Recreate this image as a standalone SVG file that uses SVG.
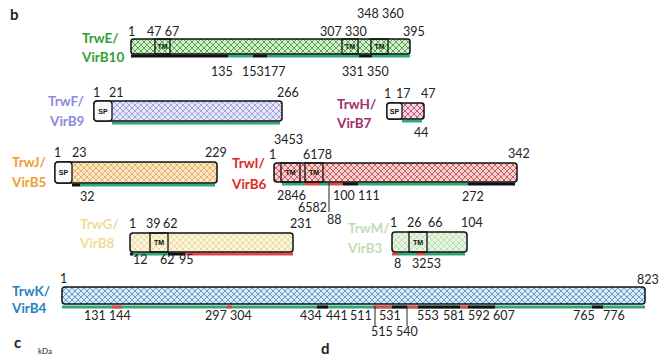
<svg xmlns="http://www.w3.org/2000/svg" width="662" height="357" viewBox="0 0 662 357">
<style>
.n{font-family:Lato,"Liberation Sans",sans-serif;font-size:12.5px;fill:#222}
.lb{font-family:Lato,"Liberation Sans",sans-serif;font-size:13.5px;font-weight:bold}
.pl{font-family:Lato,"Liberation Sans",sans-serif;font-size:15px;font-weight:bold;fill:#222}
.bar{stroke:#111;stroke-width:1.5}
.box{fill:none;stroke:#111;stroke-width:1.3}
.wbox{fill:#fafafa;stroke:#111;stroke-width:1.3}
.tm{font-family:"Liberation Sans",sans-serif;font-size:7px;font-weight:bold;fill:#111;text-anchor:middle}
.g{stroke:#2ea878;stroke-width:3}
.r{stroke:#e04848;stroke-width:3}
.k{stroke:#111;stroke-width:3}
.lead{stroke:#222;stroke-width:1;fill:none}
</style>
<defs>
<pattern id="pE" width="6" height="6" patternUnits="userSpaceOnUse"><rect width="6" height="6" fill="#d2f0c8"/><path d="M0,0L6,6M6,0L0,6" stroke="#4a9a4a" stroke-width="0.9"/></pattern>
<pattern id="pF" width="6" height="6" patternUnits="userSpaceOnUse"><rect width="6" height="6" fill="#e6e6f8"/><path d="M0,0L6,6M6,0L0,6" stroke="#9a9ad8" stroke-width="0.9"/></pattern>
<pattern id="pH" width="6" height="6" patternUnits="userSpaceOnUse"><rect width="6" height="6" fill="#f8d8e0"/><path d="M0,0L6,6M6,0L0,6" stroke="#c04868" stroke-width="0.9"/></pattern>
<pattern id="pJ" width="6" height="6" patternUnits="userSpaceOnUse"><rect width="6" height="6" fill="#fbe6c4"/><path d="M0,0L6,6M6,0L0,6" stroke="#e2aa60" stroke-width="0.9"/></pattern>
<pattern id="pI" width="6" height="6" patternUnits="userSpaceOnUse"><rect width="6" height="6" fill="#f8d0d0"/><path d="M0,0L6,6M6,0L0,6" stroke="#c85050" stroke-width="0.9"/></pattern>
<pattern id="pG" width="6" height="6" patternUnits="userSpaceOnUse"><rect width="6" height="6" fill="#fcf4dc"/><path d="M0,0L6,6M6,0L0,6" stroke="#ead69a" stroke-width="0.9"/></pattern>
<pattern id="pM" width="6" height="6" patternUnits="userSpaceOnUse"><rect width="6" height="6" fill="#e6f4e2"/><path d="M0,0L6,6M6,0L0,6" stroke="#bcdcb4" stroke-width="0.9"/></pattern>
<pattern id="pK" width="6" height="6" patternUnits="userSpaceOnUse"><rect width="6" height="6" fill="#d6eaf8"/><path d="M0,0L6,6M6,0L0,6" stroke="#5a96c4" stroke-width="0.9"/></pattern>
</defs>
<rect width="662" height="357" fill="#ffffff"/>
<text class="pl" x="10" y="20">b</text>

<g id="TrwE">
<text class="lb" x="82" y="43" fill="#34a034">TrwE/</text>
<text class="lb" x="82" y="62" fill="#34a034">VirB10</text>
<line class="k" x1="131" y1="56" x2="228" y2="56"/><line class="g" x1="228" y1="56" x2="253" y2="56"/><line class="k" x1="253" y1="56" x2="267" y2="56"/><line class="g" x1="267" y1="56" x2="359" y2="56"/><line class="k" x1="359" y1="56" x2="372" y2="56"/><line class="g" x1="372" y1="56" x2="410" y2="56"/>
<rect class="bar" x="131" y="39" width="279" height="15" rx="2.5" fill="url(#pE)"/>
<rect class="box" x="155" y="39" width="15" height="15"/><text class="tm" x="162.5" y="49">TM</text>
<rect class="box" x="342" y="39" width="16" height="15"/><text class="tm" x="350" y="49">TM</text>
<rect class="box" x="371" y="39" width="17" height="15"/><text class="tm" x="379.5" y="49">TM</text>
<text class="n" x="128" y="36">1</text><text class="n" x="147" y="36">47 67</text>
<text class="n" x="320" y="36">307 330</text><text class="n" x="357" y="18">348 360</text><text class="n" x="403" y="36">395</text>
<text class="n" x="211" y="76">135</text><text class="n" x="242" y="76">153177</text><text class="n" x="342" y="76">331 350</text>
</g>

<g id="TrwF">
<text class="lb" x="48" y="106" fill="#8a8ae0">TrwF/</text>
<text class="lb" x="50" y="126" fill="#8a8ae0">VirB9</text>
<line class="g" x1="112" y1="123" x2="280" y2="123"/>
<rect class="bar" x="94" y="101" width="188" height="20" rx="3" fill="url(#pF)"/>
<rect class="wbox" x="94" y="101" width="18" height="20" rx="3"/><text class="tm" x="103" y="114">SP</text>
<text class="n" x="93" y="97">1</text><text class="n" x="109" y="97">21</text><text class="n" x="277" y="97">266</text>
</g>

<g id="TrwH">
<text class="lb" x="337" y="109" fill="#a0306a">TrwH/</text>
<text class="lb" x="337" y="128" fill="#a0306a">VirB7</text>
<line class="g" x1="402" y1="121" x2="422" y2="121"/>
<rect class="bar" x="387" y="103" width="37" height="16" rx="2.5" fill="url(#pH)"/>
<rect class="wbox" x="387" y="103" width="15" height="16" rx="2.5"/><text class="tm" x="394.5" y="114">SP</text>
<text class="n" x="384" y="98">1</text><text class="n" x="396" y="98">17</text><text class="n" x="421" y="98">47</text>
<text class="n" x="414" y="137">44</text>
</g>

<g id="TrwJ">
<text class="lb" x="12" y="167" fill="#f0a030">TrwJ/</text>
<text class="lb" x="12" y="187" fill="#f0a030">VirB5</text>
<line class="k" x1="72" y1="185" x2="80" y2="185"/><line class="g" x1="80" y1="185" x2="215" y2="185"/>
<rect class="bar" x="55" y="162" width="162" height="21" rx="3" fill="url(#pJ)"/>
<rect class="wbox" x="55" y="162" width="17" height="21" rx="3"/><text class="tm" x="63.5" y="175">SP</text>
<text class="n" x="54" y="157">1</text><text class="n" x="72" y="157">23</text><text class="n" x="205" y="157">229</text>
<text class="n" x="80" y="201">32</text>
</g>

<g id="TrwI">
<text class="lb" x="232" y="168" fill="#e02828">TrwI/</text>
<text class="lb" x="232" y="189" fill="#e02828">VirB6</text>
<line class="g" x1="282" y1="184" x2="305" y2="184"/><line class="r" x1="305" y1="184" x2="320" y2="184"/><line class="g" x1="320" y1="184" x2="330" y2="184"/><line class="r" x1="330" y1="184" x2="343" y2="184"/><line class="k" x1="343" y1="184" x2="358" y2="184"/><line class="g" x1="358" y1="184" x2="468" y2="184"/><line class="k" x1="468" y1="184" x2="515" y2="184"/>
<rect class="bar" x="274" y="163" width="243" height="19" rx="3" fill="url(#pI)"/>
<rect class="box" x="281" y="163" width="19" height="19"/><text class="tm" x="290.5" y="175">TM</text>
<rect class="box" x="305" y="163" width="18" height="19"/><text class="tm" x="314" y="175">TM</text>
<text class="n" x="274" y="144">3453</text><text class="n" x="269" y="159">1</text><text class="n" x="303" y="159">6178</text><text class="n" x="508" y="158">342</text>
<text class="n" x="277" y="200">2846</text><text class="n" x="298" y="212">6582</text><text class="n" x="333" y="200">100 111</text><text class="n" x="462" y="201">272</text><text class="n" x="327" y="224">88</text>
</g>

<g id="TrwG">
<text class="lb" x="80" y="229" fill="#f0dc94">TrwG/</text>
<text class="lb" x="80" y="248" fill="#f0dc94">VirB8</text>
<line class="k" x1="130" y1="254" x2="133" y2="254"/><line class="g" x1="133" y1="254" x2="168" y2="254"/><line class="k" x1="168" y1="254" x2="185" y2="254"/><line class="r" x1="185" y1="254" x2="293" y2="254"/>
<rect class="bar" x="130" y="233" width="163" height="19" rx="3" fill="url(#pG)"/>
<rect class="box" x="150" y="233" width="18" height="19"/><text class="tm" x="159" y="245">TM</text>
<text class="n" x="129" y="228">1</text><text class="n" x="146" y="228">39</text><text class="n" x="163" y="228">62</text><text class="n" x="290" y="228">231</text>
<text class="n" x="133" y="264">12</text><text class="n" x="160" y="264">62</text><text class="n" x="179" y="264">95</text>
</g>

<g id="TrwM">
<text class="lb" x="348" y="233" fill="#c4dcb4">TrwM/</text>
<text class="lb" x="348" y="253" fill="#c4dcb4">VirB3</text>
<line class="r" x1="392" y1="254" x2="398" y2="254"/><line class="g" x1="398" y1="254" x2="417" y2="254"/><line class="r" x1="417" y1="254" x2="425" y2="254"/><line class="g" x1="425" y1="254" x2="465" y2="254"/>
<rect class="bar" x="392" y="232" width="75" height="20" rx="3" fill="url(#pM)"/>
<rect class="box" x="409" y="232" width="18" height="20"/><text class="tm" x="418" y="245">TM</text>
<text class="n" x="390" y="227">1</text><text class="n" x="407" y="227">26</text><text class="n" x="428" y="227">66</text><text class="n" x="461" y="227">104</text>
<text class="n" x="394" y="268">8</text><text class="n" x="412" y="268">3253</text>
</g>

<g id="TrwK">
<text class="lb" x="12" y="296" fill="#2a80c0">TrwK/</text>
<text class="lb" x="12" y="313" fill="#2a80c0">VirB4</text>
<line class="g" x1="62" y1="307" x2="645" y2="307"/>
<line class="r" x1="112" y1="307" x2="122" y2="307"/><line class="r" x1="227" y1="307" x2="232" y2="307"/><line class="k" x1="317" y1="307" x2="328" y2="307"/><line class="r" x1="373" y1="307" x2="392" y2="307"/><line class="k" x1="392" y1="307" x2="407" y2="307"/><line class="r" x1="407" y1="307" x2="418" y2="307"/><line class="k" x1="418" y1="307" x2="460" y2="307"/><line class="r" x1="460" y1="307" x2="468" y2="307"/><line class="k" x1="468" y1="307" x2="495" y2="307"/><line class="k" x1="592" y1="307" x2="603" y2="307"/>
<rect class="bar" x="62" y="287" width="583" height="17" rx="3" fill="url(#pK)"/>
<text class="n" x="60" y="283">1</text><text class="n" x="637" y="284">823</text>
<text class="n" x="84" y="320">131 144</text><text class="n" x="205" y="320">297 304</text><text class="n" x="300" y="320">434</text><text class="n" x="326" y="320">441</text><text class="n" x="350" y="320">511</text><text class="n" x="379" y="320">531</text><text class="n" x="417" y="320">553</text><text class="n" x="443" y="320">581</text><text class="n" x="468" y="320">592</text><text class="n" x="493" y="320">607</text><text class="n" x="573" y="320">765</text><text class="n" x="603" y="320">776</text>
<text class="n" x="371" y="336">515 540</text>
</g>

<g id="connectors">
<line class="lead" x1="329" y1="183" x2="329" y2="212"/>
<line class="lead" x1="375" y1="306" x2="375" y2="326"/>
<line class="lead" x1="407" y1="306" x2="407" y2="326"/>
</g>

<text class="pl" x="14" y="348">c</text>
<text class="n" x="38" y="354" style="font-size:8px">kDa</text>
<text class="pl" x="321" y="354">d</text>
</svg>
